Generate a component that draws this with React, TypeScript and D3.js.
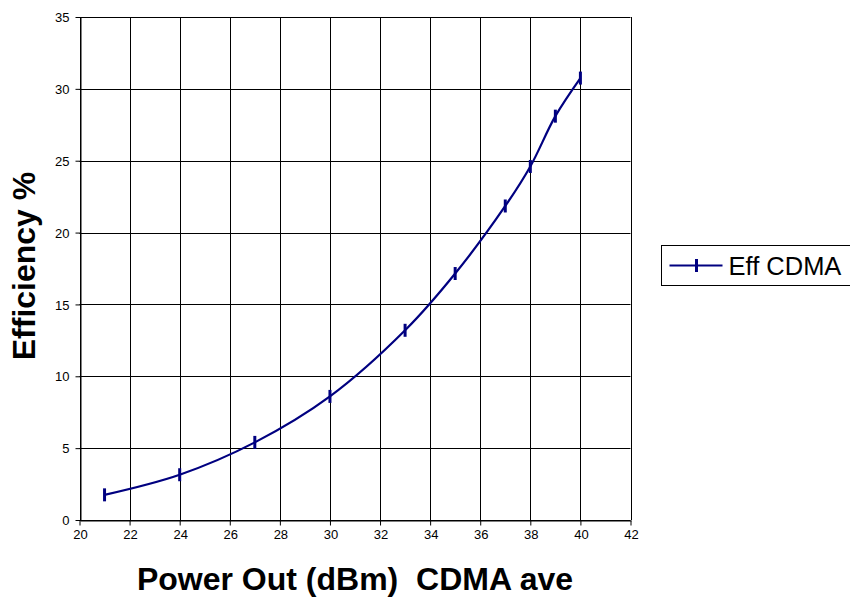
import React, { useEffect, useRef } from "react";
import * as d3 from "d3";

// values
const powerOut = [21, 24, 27, 30, 33, 35, 37, 38, 39, 40];
const efficiency = [1.75, 3.15, 5.4, 8.6, 13.2, 17.15, 21.85, 24.6, 28.1, 30.75];
const xTicks = [20, 22, 24, 26, 28, 30, 32, 34, 36, 38, 40, 42];
const yTicks = [0, 5, 10, 15, 20, 25, 30, 35];
const seriesName = "Eff CDMA";

const App: React.FC = () => {
  const svgRef = useRef<SVGSVGElement | null>(null);
  const width = 850;
  const height = 597;
  const plot = { left: 79.5, right: 630.5, top: 17, bottom: 520 };
  const lineColor = "#000080";

  useEffect(() => {
    if (!svgRef.current) return;
    const svg = d3.select(svgRef.current);
    svg.selectAll("*").remove();

    const x = d3.scaleLinear().domain([20, 42]).range([plot.left, plot.right]);
    const y = d3.scaleLinear().domain([0, 35]).range([plot.bottom, plot.top]);

    const font = "Arial, 'Liberation Sans', sans-serif";

    // grid
    const grid = svg.append("g");
    grid
      .selectAll("line.h")
      .data(yTicks)
      .enter()
      .append("line")
      .attr("x1", plot.left)
      .attr("x2", plot.right)
      .attr("y1", (d) => Math.round(y(d)) + 0.5)
      .attr("y2", (d) => Math.round(y(d)) + 0.5)
      .attr("stroke", "#000")
      .attr("stroke-width", 1);
    grid
      .selectAll("line.v")
      .data(xTicks)
      .enter()
      .append("line")
      .attr("x1", (d) => Math.round(x(d)) + 0.5)
      .attr("x2", (d) => Math.round(x(d)) + 0.5)
      .attr("y1", plot.top)
      .attr("y2", plot.bottom)
      .attr("stroke", "#000")
      .attr("stroke-width", 1);

    // axes
    const xAxis = d3
      .axisBottom(x)
      .tickValues(xTicks)
      .tickSize(5)
      .tickSizeOuter(0)
      .tickPadding(4);
    const gx = svg
      .append("g")
      .attr("transform", `translate(0.5,${Math.round(y(0)) + 0.5})`)
      .call(xAxis);
    gx.select(".domain").attr("stroke", "#000");
    gx.selectAll("line").attr("stroke", "#000").attr("transform", "translate(-0.5,0)");
    gx.selectAll("text")
      .attr("font-family", font)
      .attr("font-size", 13)
      .attr("fill", "#000");

    const yAxis = d3
      .axisLeft(y)
      .tickValues(yTicks)
      .tickSize(5)
      .tickSizeOuter(0)
      .tickPadding(6);
    const gy = svg
      .append("g")
      .attr("transform", `translate(${Math.round(x(20)) + 0.5},0.5)`)
      .call(yAxis);
    gy.select(".domain").attr("stroke", "#000");
    gy.selectAll("line").attr("stroke", "#000").attr("transform", "translate(0,-0.5)");
    gy.selectAll("text")
      .attr("font-family", font)
      .attr("font-size", 13)
      .attr("fill", "#000");

    // series line
    const pts = powerOut.map((p, i) => [p, efficiency[i]] as [number, number]);
    const line = d3
      .line<[number, number]>()
      .x((d) => x(d[0]))
      .y((d) => y(d[1]))
      .curve(d3.curveCatmullRom.alpha(0.5));
    svg
      .append("path")
      .datum(pts)
      .attr("fill", "none")
      .attr("stroke", lineColor)
      .attr("stroke-width", 2.2)
      .attr("d", line);

    // plus markers
    const markers = svg.append("g");
    markers
      .selectAll("line")
      .data(pts)
      .enter()
      .append("line")
      .attr("x1", (d) => x(d[0]))
      .attr("x2", (d) => x(d[0]))
      .attr("y1", (d) => y(d[1]) - 6.5)
      .attr("y2", (d) => y(d[1]) + 6.5)
      .attr("stroke", lineColor)
      .attr("stroke-width", 3);

    // legend
    const legend = svg.append("g").attr("transform", "translate(661.5,245.5)");
    legend
      .append("rect")
      .attr("width", 200)
      .attr("height", 40)
      .attr("fill", "#fff")
      .attr("stroke", "#000");
    legend
      .append("line")
      .attr("x1", 8)
      .attr("x2", 61)
      .attr("y1", 20)
      .attr("y2", 20)
      .attr("stroke", lineColor)
      .attr("stroke-width", 2.2);
    legend
      .append("line")
      .attr("x1", 35)
      .attr("x2", 35)
      .attr("y1", 13.5)
      .attr("y2", 26.5)
      .attr("stroke", lineColor)
      .attr("stroke-width", 3);
    legend
      .append("text")
      .attr("x", 67)
      .attr("y", 29)
      .attr("font-family", font)
      .attr("font-size", 25.5)
      .attr("fill", "#000")
      .text(seriesName);

    // axis titles
    svg
      .append("text")
      .attr("x", 355)
      .attr("y", 590)
      .attr("text-anchor", "middle")
      .attr("font-family", font)
      .attr("font-size", 32)
      .attr("font-weight", "bold")
      .style("white-space", "pre")
      .text("Power Out (dBm)  CDMA ave");
    svg
      .append("text")
      .attr("transform", "translate(35,266) rotate(-90)")
      .attr("text-anchor", "middle")
      .attr("font-family", font)
      .attr("font-size", 32)
      .attr("font-weight", "bold")
      .text("Efficiency %");
  }, []);

  return (
    <svg
      ref={svgRef}
      width={width}
      height={height}
      style={{ position: "absolute", left: 0, top: 0, background: "#fff" }}
    ></svg>
  );
};

export default App;
